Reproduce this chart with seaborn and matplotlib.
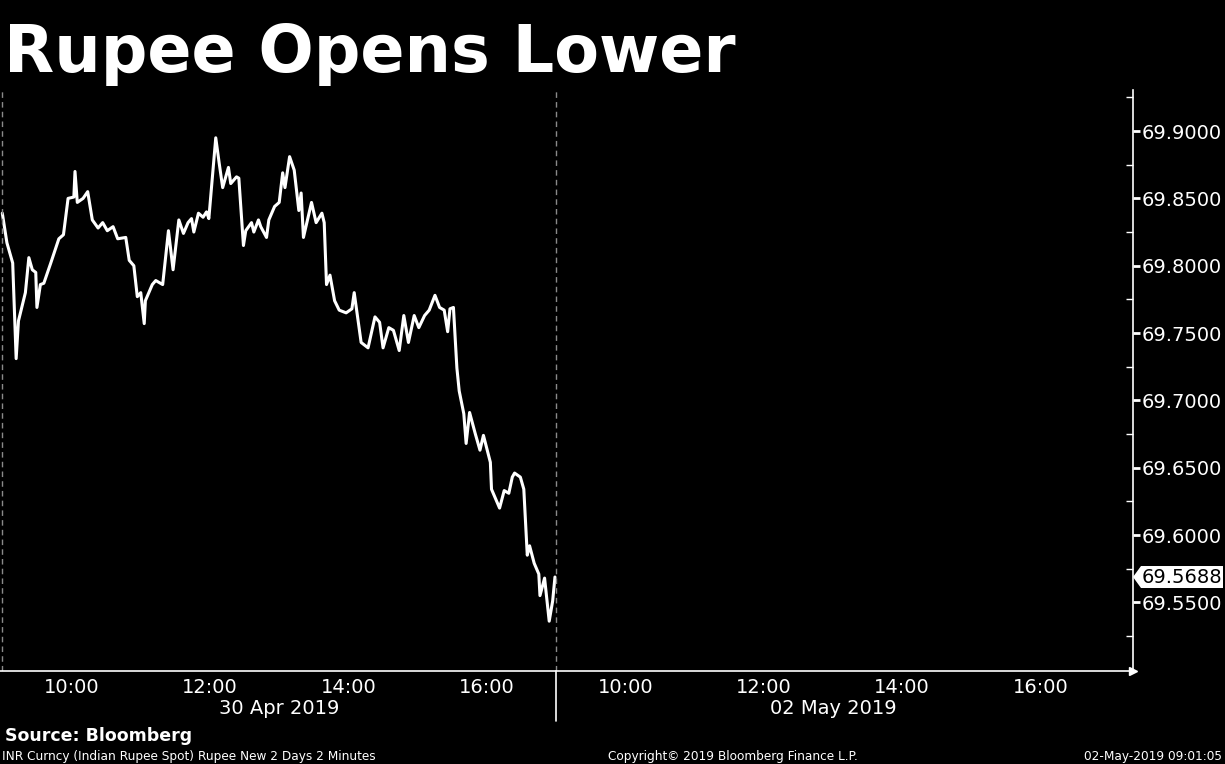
import matplotlib
matplotlib.use("Agg")
import matplotlib.pyplot as plt
import matplotlib.transforms as mtransforms
from matplotlib.patches import Polygon
import pandas as pd
import seaborn as sns

# ---------------- data ----------------
title = "Rupee Opens Lower"
session_days = ["30 Apr 2019", "02 May 2019"]
hour_labels = ["10:00", "12:00", "14:00", "16:00"]
label_hours = [10, 12, 14, 16]
minor_hours = [11, 13, 15, 17]
y_ticks = [69.55, 69.60, 69.65, 69.70, 69.75, 69.80, 69.85, 69.90]

# minutes after the 09:00 open on 30 Apr 2019
minutes_after_open = [
    0, 4, 9, 12, 14, 20, 23, 26, 29, 30, 33, 36, 42, 49, 53, 57, 62, 63, 65, 70,
    74, 78, 83, 87, 91, 96, 100, 107, 110, 114, 117, 120, 123, 124, 130, 133, 139, 144, 148, 153,
    157, 161, 164, 166, 170, 174, 177, 179, 185, 188, 191, 196, 198, 203, 205, 209, 211, 216, 218, 222,
    224, 229, 231, 236, 240, 243, 245, 249, 253, 257, 259, 261, 268, 272, 277, 279, 281, 284, 288, 292,
    298, 303, 305, 311, 317, 323, 327, 330, 335, 339, 344, 348, 352, 357, 361, 366, 370, 375, 379, 383,
    386, 388, 391, 394, 396, 400, 402, 405, 410, 414, 417, 423, 424, 431, 435, 439, 442, 444, 449, 452,
    455, 457, 461, 465, 466, 470, 474, 477, 479,
]
inr_rate = [
    69.839, 69.817, 69.802, 69.731, 69.759, 69.780, 69.806, 69.797, 69.795, 69.769,
    69.786, 69.787, 69.802, 69.820, 69.823, 69.850, 69.851, 69.870, 69.847, 69.850,
    69.855, 69.834, 69.828, 69.832, 69.826, 69.829, 69.820, 69.821, 69.804, 69.800,
    69.777, 69.780, 69.757, 69.774, 69.786, 69.789, 69.786, 69.826, 69.797, 69.834,
    69.824, 69.832, 69.835, 69.825, 69.839, 69.836, 69.840, 69.835, 69.895, 69.876,
    69.858, 69.873, 69.861, 69.866, 69.865, 69.815, 69.826, 69.832, 69.825, 69.834,
    69.829, 69.821, 69.834, 69.844, 69.847, 69.869, 69.858, 69.881, 69.871, 69.841,
    69.854, 69.821, 69.847, 69.832, 69.839, 69.832, 69.786, 69.793, 69.774, 69.767,
    69.765, 69.768, 69.780, 69.743, 69.739, 69.762, 69.758, 69.739, 69.754, 69.752,
    69.737, 69.763, 69.743, 69.763, 69.754, 69.763, 69.767, 69.778, 69.769, 69.767,
    69.751, 69.768, 69.769, 69.724, 69.707, 69.690, 69.668, 69.691, 69.675, 69.663,
    69.674, 69.654, 69.634, 69.620, 69.633, 69.631, 69.643, 69.646, 69.643, 69.634,
    69.585, 69.592, 69.579, 69.571, 69.555, 69.568, 69.536, 69.551, 69.5688,
]

SESSION = 480  # 09:00-17:00 in minutes

# ---------------- style ----------------
sns.set_theme(style="dark")
plt.rcParams["font.family"] = ["DejaVu Sans"]
plt.rcParams["axes.facecolor"] = "black"
plt.rcParams["figure.facecolor"] = "black"

W, H = 1225, 764
fig = plt.figure(figsize=(W / 100, H / 100), dpi=100, facecolor="black")
ax_left, ax_right, ax_top, ax_bottom = 0, 1133, 90, 671
ax = fig.add_axes([ax_left / W, 1 - ax_bottom / H, (ax_right - ax_left) / W, (ax_bottom - ax_top) / H])
ax.set_facecolor("black")

df = pd.DataFrame({"minute": minutes_after_open, "rate": inr_rate})
sns.lineplot(data=df, x="minute", y="rate", ax=ax, color="white", linewidth=2.2, legend=False)

ymin, ymax = 69.499, 69.9305
ax.set_xlim(-2, 980)
ax.set_ylim(ymin, ymax)
ax.grid(False)
ax.set_xlabel("")
ax.set_ylabel("")

# spines
for s in ["top", "left"]:
    ax.spines[s].set_visible(False)
for s in ["right", "bottom"]:
    ax.spines[s].set_visible(True)
    ax.spines[s].set_color("white")
    ax.spines[s].set_linewidth(1.2)

# y axis on the right
ax.yaxis.tick_right()
ax.set_yticks(y_ticks)
ax.set_yticklabels([f"{v:.4f}" for v in y_ticks])
ax.set_yticks([v + 0.025 for v in [69.50] + y_ticks], minor=True)
ax.tick_params(axis="y", which="major", direction="out", length=5, width=2,
               colors="white", labelsize=14, pad=1, right=True, left=False)
ax.tick_params(axis="y", which="minor", direction="in", length=5, width=1,
               colors="white", right=True, left=False)

# x axis: two compressed sessions
major_pos, major_lab, minor_pos = [], [], []
for d in range(len(session_days)):
    for h, lab in zip(label_hours, hour_labels):
        major_pos.append(d * SESSION + (h - 9) * 60)
        major_lab.append(lab)
    for h in minor_hours:
        minor_pos.append(d * SESSION + (h - 9) * 60)
ax.set_xticks(major_pos)
ax.set_xticklabels(major_lab)
ax.set_xticks(minor_pos, minor=True)
ax.tick_params(axis="x", which="major", length=0, colors="white", labelsize=14, pad=5)
ax.tick_params(axis="x", which="minor", direction="out", length=4, width=1, colors="white")

# arrowhead at end of x axis
ax.plot([1.0], [0], marker=">", markersize=6, color="white", transform=ax.transAxes, clip_on=False)

# session separators
ax.axvline(0, color="#8a8a8a", lw=1, ls=(0, (4, 3)))
ax.axvline(SESSION, color="#8a8a8a", lw=1, ls=(0, (4, 3)))
blend = mtransforms.blended_transform_factory(ax.transData, ax.transAxes)
ax.plot([SESSION, SESSION], [0, -50 / 581], color="white", lw=1.2, transform=blend, clip_on=False)

# day labels
for d, day in enumerate(session_days):
    ax.text(d * SESSION + SESSION / 2, -(709 - ax_bottom) / 581, day, transform=blend,
            ha="center", va="center", color="white", fontsize=14)

# last value tag
last = inr_rate[-1]
tb = mtransforms.blended_transform_factory(ax.transAxes, ax.transData)
hh = (ymax - ymin) * 11 / 581
aw = ax_right - ax_left
verts = [(1.0, last), (1.0 + 8 / aw, last + hh), (1.0 + 90 / aw, last + hh),
         (1.0 + 90 / aw, last - hh), (1.0 + 8 / aw, last - hh)]
ax.add_patch(Polygon(verts, closed=True, facecolor="white", edgecolor="none",
                     transform=tb, clip_on=False, zorder=5))
ax.text(1.0 + 9 / aw, last, f"{last:.4f}", transform=tb, ha="left", va="center",
        color="black", fontsize=14, zorder=6, clip_on=False)

# figure texts
fig.text(4 / W, 1 - 72 / H, title, color="white", fontsize=47, fontweight="bold",
         ha="left", va="baseline")
fig.text(5 / W, 1 - 741 / H, "Source: Bloomberg", color="white", fontsize=12.5,
         fontweight="bold", ha="left", va="baseline")
fig.text(2 / W, 1 - 760 / H, "INR Curncy (Indian Rupee Spot) Rupee New 2 Days 2 Minutes",
         color="white", fontsize=8.7, ha="left", va="baseline")
fig.text(608 / W, 1 - 760 / H, "Copyright\u00a9 2019 Bloomberg Finance L.P.",
         color="white", fontsize=8.7, ha="left", va="baseline")
fig.text(1222 / W, 1 - 760 / H, "02-May-2019 09:01:05",
         color="white", fontsize=8.7, ha="right", va="baseline")

fig.savefig("out.png", dpi=100, facecolor="black")
